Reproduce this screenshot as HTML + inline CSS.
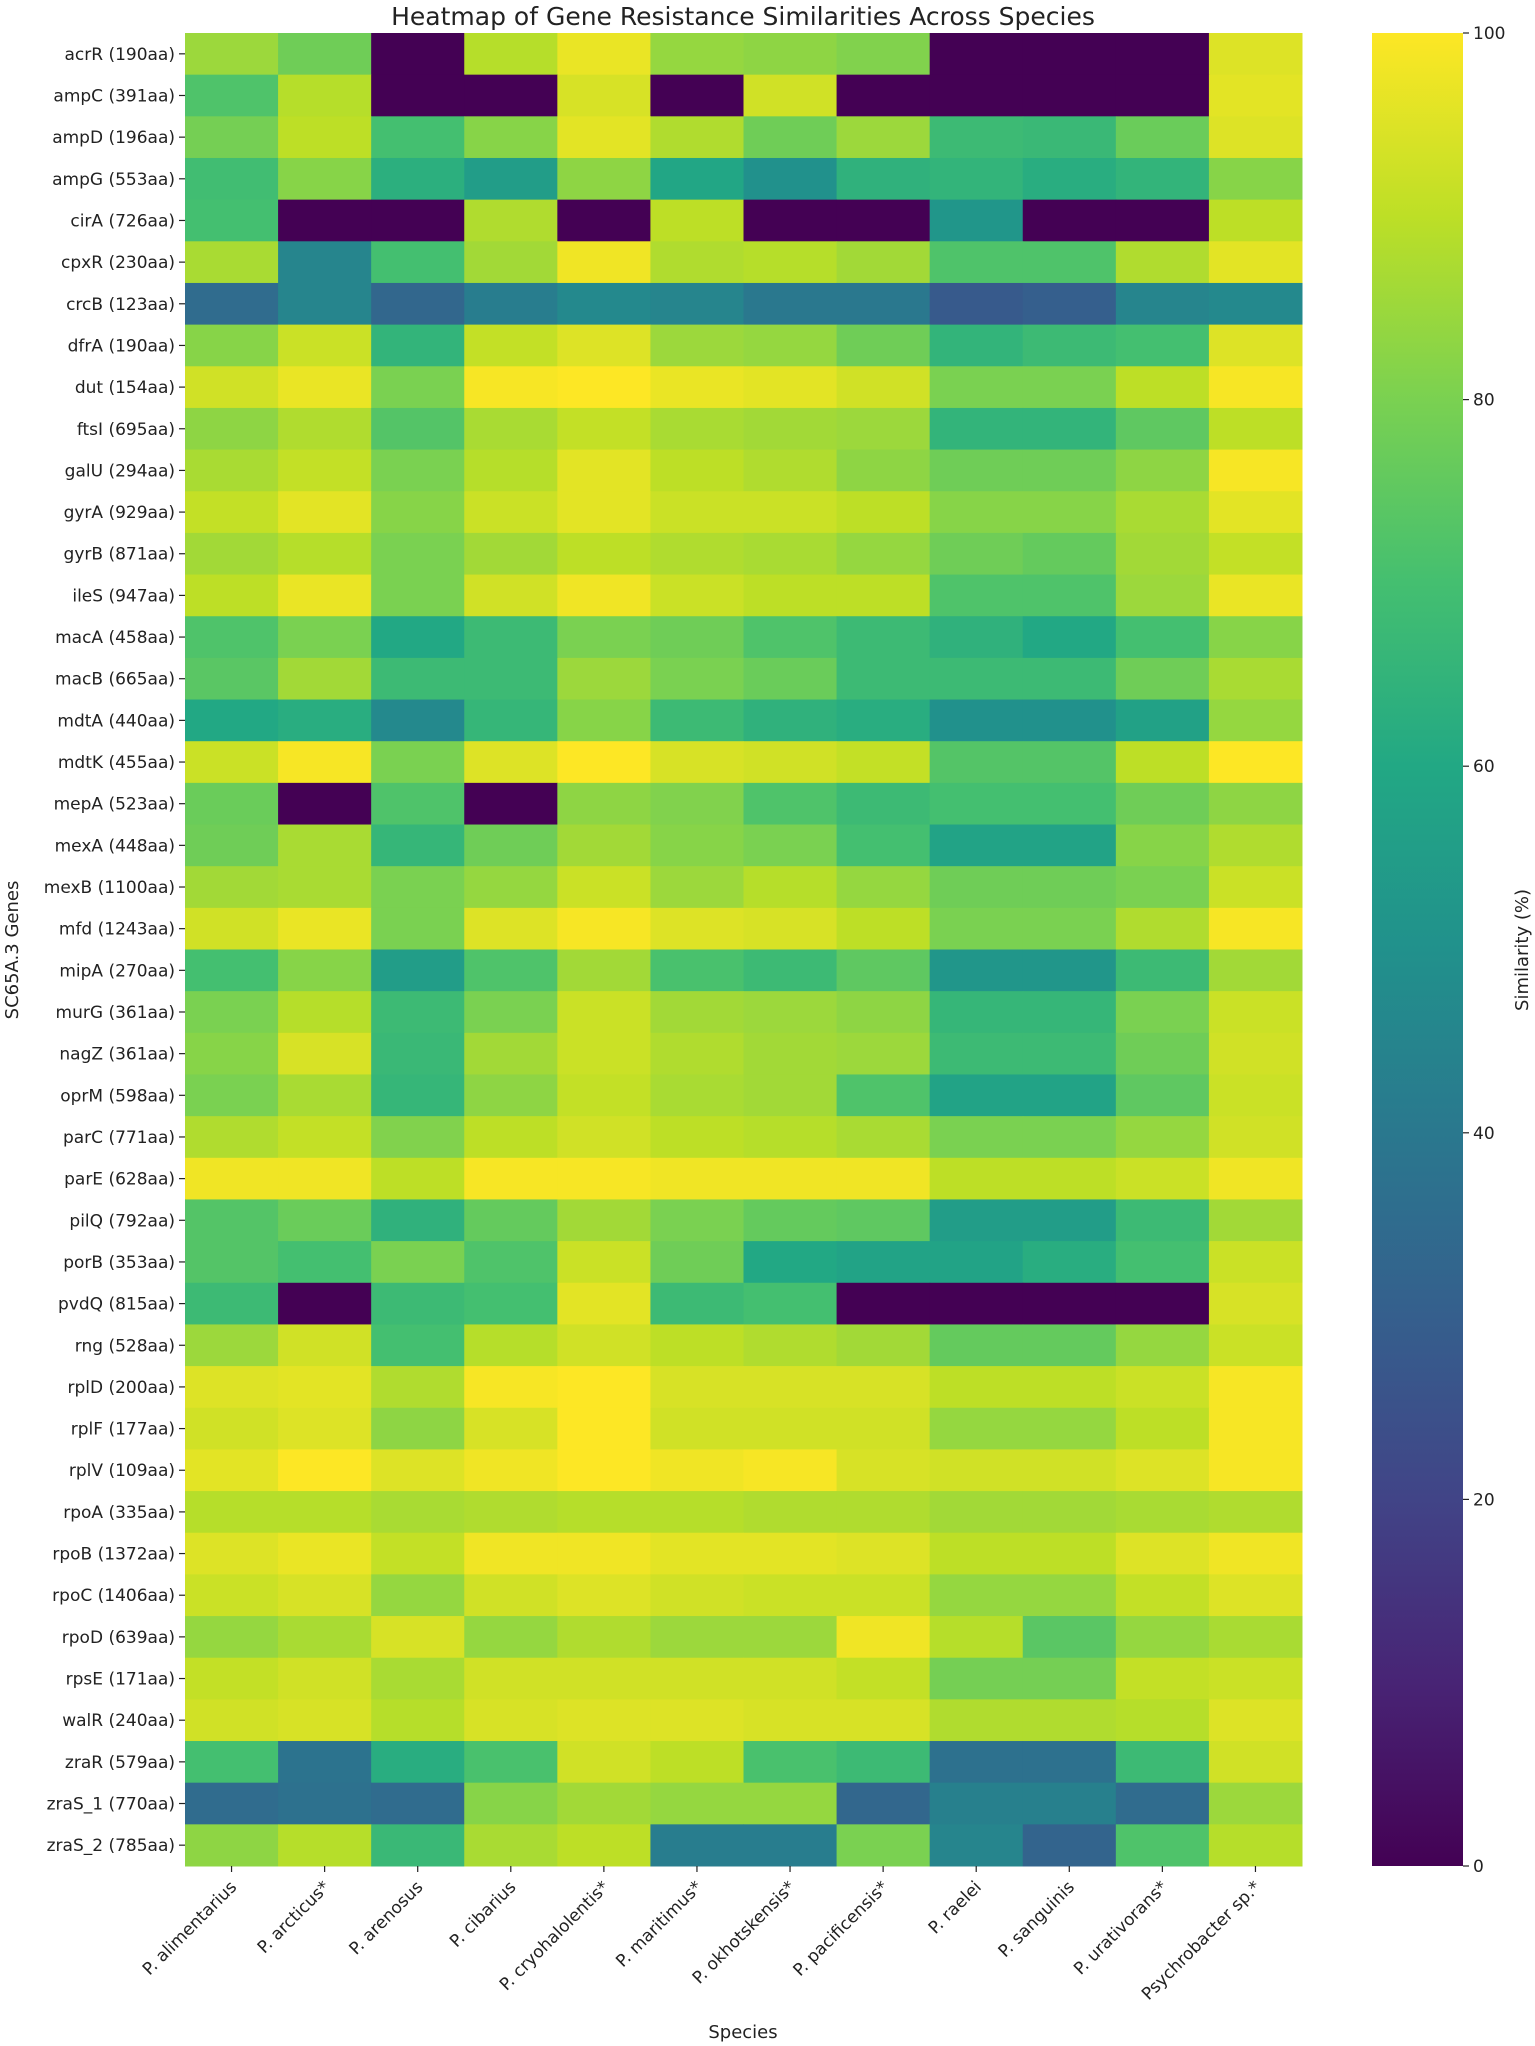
<!DOCTYPE html>
<html><head><meta charset="utf-8">
<style>
html,body{margin:0;padding:0;background:#fff;}
svg{display:block;font-family:"DejaVu Sans","Liberation Sans",sans-serif;}
</style></head>
<body>
<svg id="chart" width="1535" height="2046" viewBox="0 0 1535 2046" xmlns="http://www.w3.org/2000/svg">
<text x="743" y="25" font-size="25" text-anchor="middle" fill="#222">Heatmap of Gene Resistance Similarities Across Species</text>
<text transform="translate(18,950) rotate(-90)" font-size="18" text-anchor="middle" fill="#222">SC65A.3 Genes</text>
<text x="743" y="2038" font-size="18" text-anchor="middle" fill="#222">Species</text>
<text transform="translate(1528,950) rotate(-90)" font-size="18" text-anchor="middle" fill="#222">Similarity (%)</text>
<g id="cells"></g>
<g id="yticks"></g>
<g id="xticks"></g>
<g id="cbar"></g>
</svg>
<script>
const genes = ["acrR (190aa)","ampC (391aa)","ampD (196aa)","ampG (553aa)","cirA (726aa)","cpxR (230aa)","crcB (123aa)","dfrA (190aa)","dut (154aa)","ftsI (695aa)","galU (294aa)","gyrA (929aa)","gyrB (871aa)","ileS (947aa)","macA (458aa)","macB (665aa)","mdtA (440aa)","mdtK (455aa)","mepA (523aa)","mexA (448aa)","mexB (1100aa)","mfd (1243aa)","mipA (270aa)","murG (361aa)","nagZ (361aa)","oprM (598aa)","parC (771aa)","parE (628aa)","pilQ (792aa)","porB (353aa)","pvdQ (815aa)","rng (528aa)","rplD (200aa)","rplF (177aa)","rplV (109aa)","rpoA (335aa)","rpoB (1372aa)","rpoC (1406aa)","rpoD (639aa)","rpsE (171aa)","walR (240aa)","zraR (579aa)","zraS_1 (770aa)","zraS_2 (785aa)"];
const species = ["P. alimentarius","P. arcticus*","P. arenosus","P. cibarius","P. cryohalolentis*","P. maritimus*","P. okhotskensis*","P. pacificensis*","P. raelei","P. sanguinis","P. urativorans*","Psychrobacter sp.*"];
const values = [
[85,78,0,89,97,84,83,81,0,0,0,95],
[72,89,0,0,94,0,93,0,0,0,0,96],
[79,90,70,82,96,88,78,85,68,67,77,95],
[69,82,63,55,83,59,50,64,65,62,65,82],
[70,0,0,88,0,90,0,0,52,0,0,90],
[87,45,70,86,98,88,89,86,72,72,88,96],
[35,45,33,42,47,45,40,40,28,30,45,47],
[82,92,65,91,95,85,84,78,65,68,70,95],
[93,97,80,99,100,97,96,93,80,80,90,99],
[83,88,73,87,91,87,86,85,65,65,75,90],
[87,91,80,89,96,90,88,83,78,78,83,99],
[91,96,82,92,96,92,92,90,82,82,87,96],
[86,89,80,86,90,88,87,84,78,76,86,91],
[90,97,80,93,98,92,90,90,72,72,85,97],
[72,80,60,68,80,78,72,68,64,60,70,82],
[74,86,68,68,85,80,77,68,68,68,78,87],
[60,62,47,66,82,68,64,62,50,50,57,84],
[92,99,80,95,100,94,93,91,73,73,90,100],
[77,0,72,0,83,81,72,68,70,70,78,83],
[78,87,66,78,86,82,80,70,58,58,82,88],
[86,87,80,84,92,85,89,84,78,78,80,92],
[93,97,80,95,99,95,94,90,80,80,88,99],
[70,82,55,72,86,71,68,75,52,52,68,86],
[80,89,68,80,92,86,85,83,66,66,80,92],
[82,94,67,86,92,88,86,85,68,68,78,93],
[80,87,66,83,91,87,86,72,58,58,75,92],
[88,91,81,90,93,90,89,87,80,80,84,93],
[98,98,90,99,99,98,98,98,90,90,92,98],
[73,77,64,76,86,80,76,75,55,55,68,86],
[73,70,80,72,92,78,60,58,58,62,70,92],
[68,0,68,70,96,68,70,0,0,0,0,94],
[85,93,70,89,93,90,88,86,76,76,84,92],
[95,96,88,99,100,94,94,94,90,90,92,99],
[93,95,83,94,100,93,93,93,84,84,90,99],
[96,100,95,98,100,98,99,94,93,93,95,99],
[89,89,87,88,89,89,88,88,86,86,87,88],
[95,97,91,98,98,96,96,95,90,90,95,98],
[92,94,84,93,95,93,92,92,84,84,91,95],
[84,87,94,84,88,85,85,98,89,74,84,87],
[91,93,87,93,93,93,93,91,79,79,91,92],
[93,94,89,94,95,95,94,94,88,88,89,95],
[70,38,62,71,93,90,71,68,37,37,68,93],
[35,37,35,82,86,84,84,33,43,43,35,85],
[83,89,67,87,90,42,42,80,45,32,72,89]
];
const cbTicks = [0,20,40,60,80,100];

const NS="http://www.w3.org/2000/svg";
const L=185, R=1302, T=33, B=1866;
const CL=1372, CR=1463;
const vmin=0, vmax=100;
const stops=["#440154","#482475","#414487","#355f8d","#2a788e","#21918c","#22a884","#44bf70","#7ad151","#bddf26","#fde725"];
function hex(h){return [1,3,5].map(i=>parseInt(h.substr(i,2),16));}
function viridis(t){t=Math.max(0,Math.min(1,t));const p=t*10,i=Math.min(9,Math.floor(p)),f=p-i;const a=hex(stops[i]),b=hex(stops[i+1]);return "rgb("+a.map((v,k)=>Math.round(v+(b[k]-v)*f)).join(",")+")";}
const cw=(R-L)/species.length, rh=(B-T)/genes.length;
function xPos(j){return L+j*cw;}
function yPos(i){return T+i*rh;}
function cbY(v){return B-(v-vmin)/(vmax-vmin)*(B-T);}
function mk(tag,attrs,parent){const e=document.createElementNS(NS,tag);for(const k in attrs)e.setAttribute(k,attrs[k]);parent.appendChild(e);return e;}
const cells=document.getElementById('cells');
values.forEach((row,i)=>row.forEach((v,j)=>{
  const r=mk('rect',{x:xPos(j),y:yPos(i),width:cw+0.5,height:rh+0.5,fill:viridis((v-vmin)/(vmax-vmin))},cells);
  
  
}));
const yt=document.getElementById('yticks');
genes.forEach((g,i)=>{
  const y=yPos(i)+rh/2;
  mk('line',{x1:L-6,x2:L,y1:y,y2:y,stroke:'#222','stroke-width':1.2},yt);
  const t=mk('text',{x:L-10,y:y+6,'font-size':17,'text-anchor':'end',fill:'#222'},yt);
  t.textContent=g;
  
  
});
const xt=document.getElementById('xticks');
species.forEach((s,j)=>{
  const x=xPos(j)+cw/2;
  mk('line',{x1:x,x2:x,y1:B,y2:B+6,stroke:'#222','stroke-width':1.2},xt);
  const t=mk('text',{transform:'translate('+(x+6)+','+(B+22)+') rotate(-45)','font-size':17,'text-anchor':'end',fill:'#222'},xt);
  t.textContent=s;
  
  
});
const cb=document.getElementById('cbar');
const defs=mk('defs',{},cb);
const lg=mk('linearGradient',{id:'vg',x1:0,y1:1,x2:0,y2:0},defs);
stops.forEach((c,k)=>mk('stop',{offset:k/10,'stop-color':c},lg));
const cr=mk('rect',{x:CL,y:T,width:CR-CL,height:B-T,fill:'url(#vg)'},cb);


cbTicks.forEach(v=>{
  const y=cbY(v);
  mk('line',{x1:CR,x2:CR+6,y1:y,y2:y,stroke:'#222','stroke-width':1.2},cb);
  const t=mk('text',{x:CR+10,y:y+6,'font-size':17,fill:'#222'},cb);
  t.textContent=v;
  
  
});
</script>
</body></html>
